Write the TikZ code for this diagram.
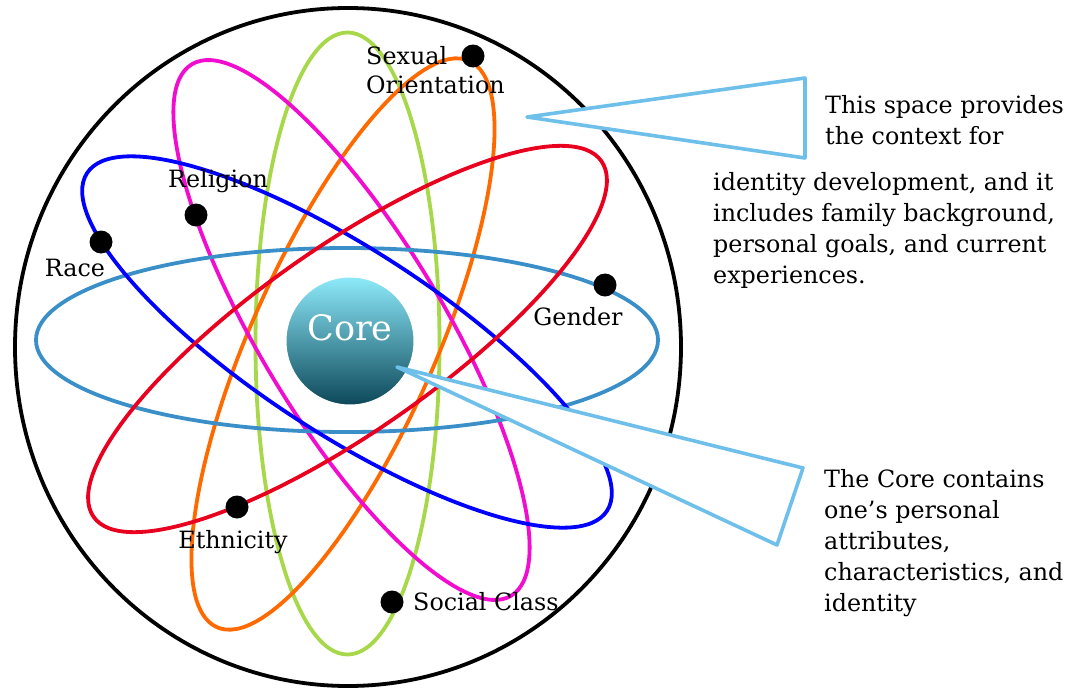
\documentclass[tikz,border=0pt]{standalone}
\usepackage{fontspec}
\setmainfont{DejaVu Serif}
\definecolor{lblue}{HTML}{3A8FC8}
\definecolor{ored}{HTML}{E8001E}
\definecolor{oorange}{HTML}{FF6A00}
\definecolor{ogreen}{HTML}{A6D84A}
\definecolor{omag}{HTML}{F20CD0}
\definecolor{oblue}{HTML}{0000FF}
\definecolor{callblue}{HTML}{6EC0EB}
\definecolor{coretop}{HTML}{8EEBFB}
\definecolor{corebot}{HTML}{0B4658}
\begin{document}
\begin{tikzpicture}[x=1pt,y=-1pt,
  orbit/.style={line width=3.8pt},
  dot/.style={circle,fill=black,inner sep=0pt,minimum size=23pt},
  lbl/.style={font=\fontsize{23.8}{29}\selectfont,inner sep=0pt,align=left},
  body/.style={font=\fontsize{23.8}{31}\selectfont,align=left,inner sep=0pt,anchor=west},
  callout/.style={draw=callblue,fill=white,line width=3.6pt,line join=round}]
\useasboundingbox (0,0) rectangle (1088,688);
% outer space
\draw[line width=3.8pt] (348,347) ellipse [x radius=333pt,y radius=339pt];
% orbits
\draw[orbit,ogreen,rotate around={90:(347.5,343.5)}] (347.5,343.5) ellipse [x radius=311pt,y radius=92pt];
\draw[orbit,oorange,rotate around={66:(343,344)}] (343,344) ellipse [x radius=310pt,y radius=92pt];
\draw[orbit,omag,rotate around={121:(351.5,330)}] (351.5,330) ellipse [x radius=310pt,y radius=92pt];
\draw[orbit,lblue] (347,340) ellipse [x radius=311pt,y radius=92pt];
\draw[orbit,oblue,rotate around={147:(347,342)}] (347,342) ellipse [x radius=310pt,y radius=92pt];
\draw[orbit,ored,rotate around={35:(347.5,339)}] (347.5,339) ellipse [x radius=310pt,y radius=92pt];
% core
\node[circle,minimum size=130pt,inner sep=0pt,top color=coretop,bottom color=corebot,draw=white,line width=3pt] (core) at (350,341) {};
\node[text=white,font=\fontsize{35}{35}\selectfont,inner sep=0pt] (corelbl) at (350,328) {Core};
% dots
\node[dot] (dso) at (473,56) {};
\node[dot] (drel) at (196,215) {};
\node[dot] (drace) at (101,242) {};
\node[dot] (dgen) at (605,285) {};
\node[dot] (deth) at (237,507) {};
\node[dot] (dsoc) at (392,602) {};
% labels
\node[lbl,anchor=north west] (lso) at (366,46) {Sexual\\Orientation};
\node[lbl] (lrel) at (218,181) {Religion};
\node[lbl] (lrace) at (75,268) {Race};
\node[lbl] (lgen) at (578,317) {Gender};
\node[lbl] (leth) at (233,542) {Ethnicity};
\node[lbl,anchor=west] (lsoc) at (413,602) {Social Class};
% callouts
\coordinate (t1) at (527,117);
\coordinate (t1a) at (805,78);
\coordinate (t1b) at (805,158);
\draw[callout] (t1) -- (t1a) -- (t1b) -- cycle;
\coordinate (t2) at (397,367);
\coordinate (t2a) at (803,468);
\coordinate (t2b) at (777,545);
\draw[callout] (t2) -- (t2a) -- (t2b) -- cycle;
% texts
\node[body] (txa) at (825,120) {This space provides\\the context for};
\node[body] (txb) at (713,230) {identity development, and it\\includes family background,\\personal goals, and current\\experiences.};
\node[body] (txc) at (824,543) {The Core contains\\one’s personal\\attributes,\\characteristics, and\\identity};
\end{tikzpicture}
\end{document}
